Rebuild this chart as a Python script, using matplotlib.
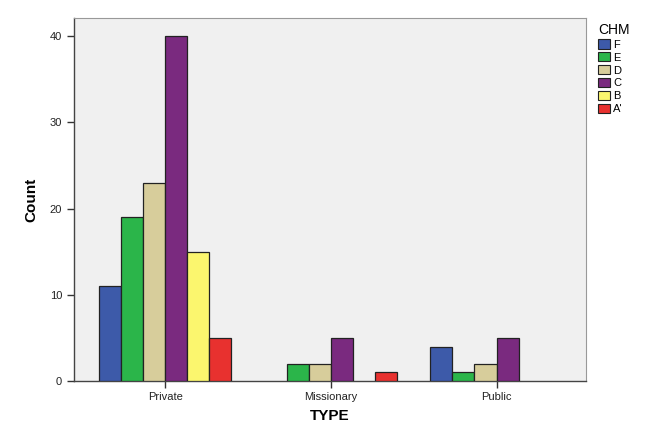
import matplotlib
matplotlib.use("Agg")
import matplotlib.pyplot as plt
import numpy as np
from matplotlib.patches import Patch

categories = ["Private", "Missionary", "Public"]
series = ["F", "E", "D", "C", "B", "A'"]
colors = ["#3d5aa9", "#2bb54a", "#d7cd9b", "#7a2a7f", "#fbf66e", "#e8312f"]
values = {
    "F": [11, 0, 4],
    "E": [19, 2, 1],
    "D": [23, 2, 2],
    "C": [40, 5, 5],
    "B": [15, 0, 0],
    "A'": [5, 1, 0],
}

plt.rcParams['font.family'] = ['Liberation Sans', 'DejaVu Sans']

fig = plt.figure(figsize=(6.61, 4.44), dpi=100)
ax = fig.add_axes([74/661, 1-381/444, (586-74)/661, (381-18)/444])
ax.set_facecolor("#f0f0f0")

x = np.arange(len(categories))
w = 0.133
for i, s in enumerate(series):
    offs = (i - 2.5) * w
    vals = np.array(values[s])
    mask = vals > 0
    ax.bar(x[mask] + offs, vals[mask], width=w, color=colors[i],
           edgecolor="#222222", linewidth=0.9, zorder=3)

ax.set_xlim(-0.55, 2.54)
ax.set_ylim(0, 42.1)
ax.set_yticks([0, 10, 20, 30, 40])
ax.set_xticks(x)
ax.set_xticklabels(categories, fontsize=8)
ax.tick_params(axis='y', labelsize=8, length=5, width=1, color="#333333", labelcolor="#222222")
ax.tick_params(axis='x', length=5, width=1, color="#333333", labelcolor="#222222", pad=3)
for sp in ["top", "right"]:
    ax.spines[sp].set_color("#999999")
for sp in ["left", "bottom"]:
    ax.spines[sp].set_color("#444444")
    ax.spines[sp].set_linewidth(1.0)

ax.set_xlabel("TYPE", fontsize=11, fontweight="bold", labelpad=5)
ax.set_ylabel("Count", fontsize=11, fontweight="bold", labelpad=8)

handles = [Patch(facecolor=c, edgecolor="#222222", linewidth=0.8, label=s) for s, c in zip(series, colors)]
leg = ax.legend(handles=handles, title="CHM", loc="upper left", bbox_to_anchor=(1.01, 1.005),
                frameon=False, fontsize=8, title_fontsize=10, handlelength=1.1, handleheight=0.9,
                handletextpad=0.3, labelspacing=0.22, borderaxespad=0.2)
leg._legend_box.align = "left"

fig.savefig("out.png", dpi=100)
